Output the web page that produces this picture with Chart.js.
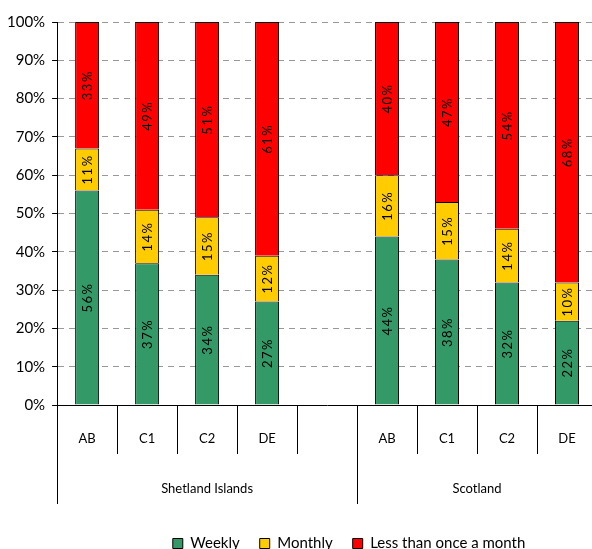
<!DOCTYPE html>
<html>
<head>
<meta charset="utf-8">
<script src="https://cdn.jsdelivr.net/npm/chart.js@4.4.1/dist/chart.umd.min.js"></script>
<style>
  html, body { margin: 0; padding: 0; background: #fff; overflow: hidden; }
  /* plot area runs slightly past the right edge of the window, as in the original */
  #wrap { width: 602px; height: 549px; }
</style>
</head>
<body>
<div id="wrap"><canvas id="myChart"></canvas></div>
<script>
// social grade categories, grouped by area (blank slot separates the two groups)
var categories = ['AB', 'C1', 'C2', 'DE', '', 'AB', 'C1', 'C2', 'DE'];
var groupNames = ['Shetland Islands', 'Scotland'];
var groupStarts = [0, 5];
var groupEnds = [4, 8];

// percentages
var weekly = [56, 37, 34, 27, null, 44, 38, 32, 22];
var monthly = [11, 14, 15, 12, null, 16, 15, 14, 10];
var lessThanMonthly = [33, 49, 51, 61, null, 40, 47, 54, 68];

var yTicks = [0, 10, 20, 30, 40, 50, 60, 70, 80, 90, 100];

var FONT = 'Lato, "Open Sans", sans-serif';

// rotated value labels inside each bar segment
var barLabels = {
    id: 'barLabels',
    afterDatasetsDraw: function(chart) {
        var ctx = chart.ctx;
        ctx.save();
        ctx.font = '13px ' + FONT;
        ctx.fillStyle = '#000';
        ctx.textAlign = 'center';
        ctx.textBaseline = 'middle';
        if ('letterSpacing' in ctx) ctx.letterSpacing = '1.5px';
        chart.data.datasets.forEach(function(ds, di) {
            var meta = chart.getDatasetMeta(di);
            meta.data.forEach(function(bar, i) {
                var v = ds.data[i];
                if (v == null) return;
                var cy = (bar.y + bar.base) / 2;
                ctx.save();
                ctx.translate(bar.x + 1, cy);
                ctx.rotate(-Math.PI / 2);
                ctx.fillText(v + '%', 0, 0);
                ctx.restore();
            });
        });
        ctx.restore();
    }
};

// two-level category axis: grade labels and area labels with divider lines
var groupAxis = {
    id: 'groupAxis',
    afterDraw: function(chart) {
        var ctx = chart.ctx;
        var x = chart.scales.x;
        var area = chart.chartArea;
        var slot = (area.right - area.left) / categories.length;
        var bottom = area.bottom;
        ctx.save();
        ctx.strokeStyle = '#000';
        ctx.lineWidth = 1;
        for (var i = 0; i <= categories.length; i++) {
            var ex = Math.round(area.left + i * slot) + 0.5;
            var long = groupStarts.indexOf(i) >= 0 || i === categories.length;
            ctx.beginPath();
            ctx.moveTo(ex, bottom);
            ctx.lineTo(ex, bottom + (long ? 99 : 49));
            ctx.stroke();
        }
        ctx.fillStyle = '#000';
        ctx.textAlign = 'center';
        ctx.textBaseline = 'middle';
        ctx.font = '13px ' + FONT;
        categories.forEach(function(c, i) {
            if (c) ctx.fillText(c, x.getPixelForValue(i), bottom + 34);
        });
        groupNames.forEach(function(g, k) {
            var l = x.getPixelForValue(groupStarts[k]) - slot / 2;
            var r = x.getPixelForValue(groupEnds[k]) + slot / 2;
            ctx.fillText(g, (l + r) / 2, bottom + 84);
        });
        ctx.restore();
    }
};

// nudge the legend right and down like in the original
var legendShift = {
    id: 'legendShift',
    afterLayout: function(chart) {
        var lg = chart.legend;
        if (lg) {
            lg.left += 22;
            lg.right += 22;
            lg.top += 12;
            lg.bottom += 12;
        }
    }
};

var ctx = document.getElementById('myChart').getContext('2d');
var myChart = new Chart(ctx, {
    type: 'bar',
    data: {
        labels: categories,
        datasets: [{
            label: 'Weekly',
            data: weekly,
            backgroundColor: '#339966',
            borderColor: '#000',
            borderWidth: 1
        }, {
            label: 'Monthly',
            data: monthly,
            backgroundColor: '#FFCC00',
            borderColor: '#000',
            borderWidth: 1
        }, {
            label: 'Less than once a month',
            data: lessThanMonthly,
            backgroundColor: '#FF0000',
            borderColor: '#000',
            borderWidth: 1
        }]
    },
    options: {
        responsive: true,
        maintainAspectRatio: false,
        animation: false,
        datasets: {
            bar: { categoryPercentage: 1, barPercentage: 0.4 }
        },
        layout: { padding: { top: 22, right: 5, left: 0, bottom: 0 } },
        scales: {
            x: {
                stacked: true,
                grid: { display: false },
                border: { color: '#000', width: 1 },
                ticks: { display: false },
                afterFit: function(scale) { scale.height = 99; }
            },
            y: {
                stacked: true,
                min: 0,
                max: 100,
                afterBuildTicks: function(scale) {
                    scale.ticks = yTicks.map(function(v) { return { value: v }; });
                },
                grid: {
                    color: function(c) { return c.tick && c.tick.value === 0 ? 'rgba(0,0,0,0)' : '#999'; },
                    tickColor: '#000',
                    tickLength: 5,
                    tickBorderDash: []
                },
                border: { color: '#000', width: 1, dash: [6, 5] },
                ticks: {
                    color: '#000',
                    padding: 7,
                    font: { family: FONT, size: 15 },
                    callback: function(v) { return v + '%'; }
                }
            }
        },
        plugins: {
            legend: {
                position: 'bottom',
                fullSize: false,
                labels: {
                    color: '#000',
                    boxWidth: 10,
                    boxHeight: 10,
                    padding: 20,
                    font: { family: FONT, size: 15 }
                }
            },
            tooltip: { enabled: false }
        }
    },
    plugins: [barLabels, groupAxis, legendShift]
});
</script>
</body>
</html>
